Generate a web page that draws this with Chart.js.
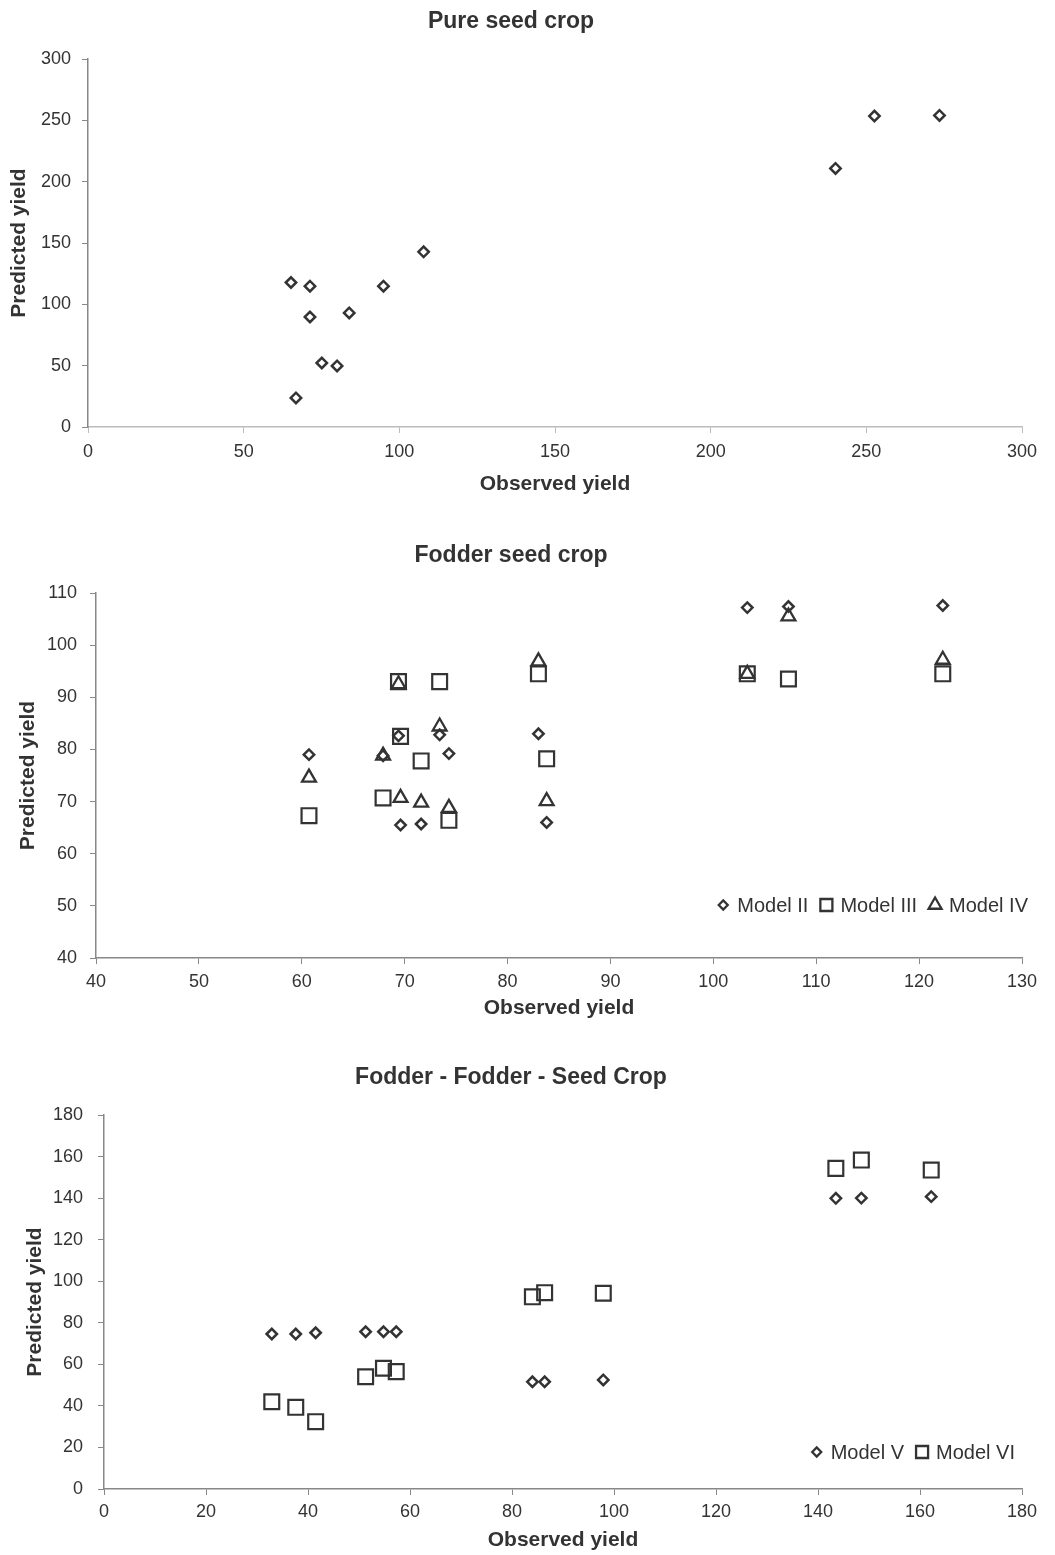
<!DOCTYPE html>
<html lang="en">
<head>
  <meta charset="UTF-8">
  <title>Observed vs predicted yield</title>
  <script src="https://cdn.jsdelivr.net/npm/chart.js"></script>
  <style>
    body {
      margin: 0;
      background: #fff;
      width: 1055px;
      height: 1555px;
      position: relative;
      overflow: hidden;
    }

    .bloco {
      position: absolute;
      left: 0;
    }

    canvas {
      display: block;
    }
  </style>
</head>
<body>

  <div class="bloco" style="top:0"><canvas id="pure" width="1055" height="510"></canvas></div>
  <div class="bloco" style="top:530px"><canvas id="fodder" width="1055" height="500"></canvas></div>
  <div class="bloco" style="top:1050px"><canvas id="fff" width="1055" height="505"></canvas></div>

  <script>
    // Pure seed crop
    const pureObserved = [65.2, 66.8, 71.3, 71.3, 75.1, 80.0, 83.9, 94.9, 107.8, 240.1, 252.6, 273.5];
    const purePredicted = [117.8, 23.7, 114.8, 89.7, 52.2, 49.8, 93.0, 114.8, 142.8, 210.8, 253.5, 254.0];
    const pureTicks = [0, 50, 100, 150, 200, 250, 300];

    // Fodder seed crop
    const fodderObserved = [60.7, 67.9, 69.4, 69.6, 71.6, 73.4, 74.3, 83.0, 83.8, 103.3, 107.3, 122.3];
    const modelII = [79.0, 78.8, 82.6, 65.5, 65.7, 82.8, 79.2, 83.0, 66.0, 107.2, 107.4, 107.6];
    const modelIII = [67.3, 70.7, 93.0, 82.5, 77.8, 93.0, 66.4, 94.5, 78.2, 94.5, 93.5, 94.5];
    const modelIV = [74.6, 78.8, 92.5, 70.7, 69.8, 84.4, 68.8, 96.9, 70.1, 94.5, 105.5, 97.2];
    const fodderXTicks = [40, 50, 60, 70, 80, 90, 100, 110, 120, 130];
    const fodderYTicks = [40, 50, 60, 70, 80, 90, 100, 110];

    // Fodder - Fodder - Seed Crop
    const fffObserved = [32.9, 37.6, 41.5, 51.3, 54.8, 57.3, 84.0, 86.4, 97.9, 143.5, 148.5, 162.2];
    const modelV = [74.6, 74.6, 75.2, 75.7, 75.7, 75.7, 51.6, 51.6, 52.5, 139.9, 140.0, 140.7];
    const modelVI = [42.0, 39.3, 32.4, 54.0, 58.1, 56.5, 92.5, 94.5, 94.2, 154.3, 158.3, 153.5];
    const fffTicks = [0, 20, 40, 60, 80, 100, 120, 140, 160, 180];

    const INK = "#333";
    const FONTE = "'Liberation Sans', Arial, sans-serif";

    const estilos = {
      losango: { pointStyle: "rectRot", pointRadius: 5.2, pointBorderWidth: 2.5 },
      quadrado: { pointStyle: "rect", pointRadius: 10.5, pointBorderWidth: 2.2 },
      triangulo: { pointStyle: "triangle", pointRadius: 8, pointBorderWidth: 2.3 }
    };

    function pares(xs, ys) {
      return xs.map((x, i) => ({ x: x, y: ys[i] }));
    }

    function serie(label, xs, ys, estilo) {
      return Object.assign({
        label: label,
        data: pares(xs, ys),
        pointBackgroundColor: "rgba(255,255,255,0)",
        pointBorderColor: INK,
        showLine: false
      }, estilos[estilo]);
    }

    // legenda desenhada dentro da área do gráfico, canto inferior direito
    const legendaDentro = {
      id: "legendaDentro",
      afterDraw(chart, args, opts) {
        if (!opts || !opts.display) return;
        const ctx = chart.ctx;
        const area = chart.chartArea;
        ctx.save();
        ctx.font = "20px " + FONTE;
        ctx.textBaseline = "middle";
        ctx.fillStyle = INK;
        const itens = chart.data.datasets.map(ds => ({
          ds: ds,
          w: 21 + ctx.measureText(ds.label).width
        }));
        const total = itens.reduce((s, it) => s + it.w, 0) + 11 * (itens.length - 1);
        let x = area.right + opts.dx - total;
        const y = area.bottom - opts.dy;
        itens.forEach(it => {
          const r = it.ds.pointStyle === "rectRot" ? 4.5 : (it.ds.pointStyle === "rect" ? 8.5 : 7.5);
          ctx.strokeStyle = INK;
          ctx.fillStyle = "rgba(255,255,255,0)";
          ctx.lineWidth = 2.3;
          Chart.helpers.drawPoint(ctx, { pointStyle: it.ds.pointStyle, radius: r, borderWidth: 2.3, rotation: 0 }, x + 7, y);
          ctx.fillStyle = INK;
          ctx.fillText(it.ds.label, x + 21, y + 1);
          x += it.w + 11;
        });
        ctx.restore();
      }
    };

    function grafico(id, cfg) {
      const eixoY = {
        type: "linear",
        min: cfg.yTicks[0],
        max: cfg.yTicks[cfg.yTicks.length - 1],
        afterFit: s => { s.width = cfg.left; },
        ticks: {
          stepSize: cfg.yTicks[1] - cfg.yTicks[0],
          color: INK,
          padding: cfg.yPad,
          font: { family: FONTE, size: 18 }
        },
        grid: { drawOnChartArea: false, drawTicks: true, tickLength: 6, color: "#888" },
        border: { display: true, color: "#888", width: 1.5 },
        title: {
          display: true,
          text: "Predicted yield",
          color: INK,
          padding: { top: cfg.yTitlePad, bottom: 0 },
          font: { family: FONTE, size: 21, weight: "bold" }
        }
      };
      const eixoX = {
        type: "linear",
        position: "bottom",
        min: cfg.xTicks[0],
        max: cfg.xTicks[cfg.xTicks.length - 1],
        afterFit: s => { s.height = cfg.bottomH; },
        ticks: {
          stepSize: cfg.xTicks[1] - cfg.xTicks[0],
          color: INK,
          padding: cfg.xPad,
          maxRotation: 0,
          font: { family: FONTE, size: 18 }
        },
        grid: { drawOnChartArea: false, drawTicks: true, tickLength: 6, color: cfg.axisColor },
        border: { display: true, color: cfg.axisColor, width: 1.5 },
        title: {
          display: true,
          text: "Observed yield",
          color: INK,
          padding: { top: 0, bottom: cfg.xTitlePad },
          font: { family: FONTE, size: 21, weight: "bold" }
        }
      };

      return new Chart(document.getElementById(id), {
        type: "scatter",
        data: { datasets: cfg.datasets },
        options: {
          responsive: false,
          animation: false,
          layout: { padding: { left: 0, right: 1055 - cfg.right, top: 0, bottom: 0 } },
          scales: { x: eixoX, y: eixoY },
          plugins: {
            legend: { display: false },
            tooltip: { enabled: false },
            title: {
              display: true,
              text: cfg.title,
              color: INK,
              padding: { top: cfg.titleTop, bottom: 23.4 },
              font: { family: FONTE, size: 23, weight: "bold" }
            },
            legendaDentro: cfg.legenda || { display: false }
          }
        },
        plugins: [legendaDentro]
      });
    }

    grafico("pure", {
      title: "Pure seed crop",
      datasets: [serie("Pure seed crop", pureObserved, purePredicted, "losango")],
      xTicks: pureTicks, yTicks: pureTicks,
      left: 88, right: 1022, bottomH: 83,
      titleTop: 8, yPad: 11, xPad: 8, xTitlePad: 13.4, yTitlePad: 6.4,
      axisColor: "#bbb"
    });

    grafico("fodder", {
      title: "Fodder seed crop",
      datasets: [
        serie("Model II", fodderObserved, modelII, "losango"),
        serie("Model III", fodderObserved, modelIII, "quadrado"),
        serie("Model IV", fodderObserved, modelIV, "triangulo")
      ],
      xTicks: fodderXTicks, yTicks: fodderYTicks,
      left: 96, right: 1022, bottomH: 72,
      titleTop: 12, yPad: 13, xPad: 7, xTitlePad: 9.4, yTitlePad: 15.4,
      axisColor: "#888",
      legenda: { display: true, dx: 6, dy: 53 }
    });

    grafico("fff", {
      title: "Fodder - Fodder - Seed Crop",
      datasets: [
        serie("Model V", fffObserved, modelV, "losango"),
        serie("Model VI", fffObserved, modelVI, "quadrado")
      ],
      xTicks: fffTicks, yTicks: fffTicks,
      left: 104, right: 1022, bottomH: 66,
      titleTop: 14, yPad: 15, xPad: 6, xTitlePad: 2.4, yTitlePad: 22.4,
      axisColor: "#888",
      legenda: { display: true, dx: -7, dy: 37 }
    });
  </script>

</body>
</html>
